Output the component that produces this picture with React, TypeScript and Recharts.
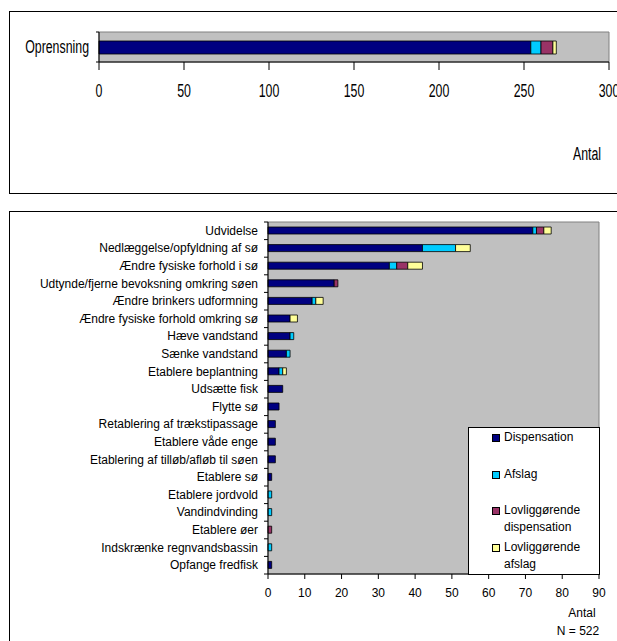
import React from 'react';
import { BarChart, Bar, XAxis, YAxis, CartesianGrid, Legend, ReferenceArea, Label } from 'recharts';

// ---------- data ----------
const topCategories = ['Oprensning'];
const topDispensation = [254];
const topAfslag = [6];
const topLovDisp = [7];
const topLovAfslag = [2];
const topTicks = [0, 50, 100, 150, 200, 250, 300];

const categories = [
  'Udvidelse',
  'Nedlæggelse/opfyldning af sø',
  'Ændre fysiske forhold i sø',
  'Udtynde/fjerne bevoksning omkring søen',
  'Ændre brinkers udformning',
  'Ændre fysiske forhold omkring sø',
  'Hæve vandstand',
  'Sænke vandstand',
  'Etablere beplantning',
  'Udsætte fisk',
  'Flytte sø',
  'Retablering af trækstipassage',
  'Etablere våde enge',
  'Etablering af tilløb/afløb til søen',
  'Etablere sø',
  'Etablere jordvold',
  'Vandindvinding',
  'Etablere øer',
  'Indskrænke regnvandsbassin',
  'Opfange fredfisk',
];
const dispensation = [72, 42, 33, 18, 12, 6, 6, 5, 3, 4, 3, 2, 2, 2, 1, 0, 0, 0, 0, 1];
const afslag = [1, 9, 2, 0, 1, 0, 1, 1, 1, 0, 0, 0, 0, 0, 0, 1, 1, 0, 1, 0];
const lovDisp = [2, 0, 3, 1, 0, 0, 0, 0, 0, 0, 0, 0, 0, 0, 0, 0, 0, 1, 0, 0];
const lovAfslag = [2, 4, 4, 0, 2, 2, 0, 0, 1, 0, 0, 0, 0, 0, 0, 0, 0, 0, 0, 0];
const bottomTicks = [0, 10, 20, 30, 40, 50, 60, 70, 80, 90];

const seriesKeys = ['d', 'a', 'ld', 'la'];
const seriesNames = ['Dispensation', 'Afslag', 'Lovliggørende dispensation', 'Lovliggørende afslag'];
const seriesColors = ['#000080', '#00CCFF', '#993366', '#FFFF99'];
const axisTitle = 'Antal';
const nLabel = 'N = 522';

// ---------- tables ----------
const topData = topCategories.map((name, i) => ({
  name,
  d: topDispensation[i],
  a: topAfslag[i],
  ld: topLovDisp[i],
  la: topLovAfslag[i],
}));
const bottomData = categories.map((name, i) => ({
  name,
  d: dispensation[i],
  a: afslag[i],
  ld: lovDisp[i],
  la: lovAfslag[i],
}));

// ---------- style constants ----------
const FONT = '"Liberation Sans", Arial, sans-serif';
const NARROW = 0.65;

const TOP_PLOT_H = 30;
const BOT_PLOT_H = 352;

const TopYTick = (props: any) => {
  const { x, y, payload } = props;
  const half = TOP_PLOT_H / topCategories.length / 2;
  return (
    <g>
      <text
        transform={`translate(${x - 10} ${y - 1}) scale(${NARROW} 1)`}
        textAnchor="end"
        dominantBaseline="central"
        fontSize={19}
        fontFamily={FONT}
        fill="#000"
      >
        {payload.value}
      </text>
      <line x1={x - 3} x2={x} y1={y - half} y2={y - half} stroke="#000" />
      <line x1={x - 3} x2={x} y1={y + half} y2={y + half} stroke="#000" />
    </g>
  );
};

const TopXTick = (props: any) => {
  const { x, y, payload } = props;
  return (
    <text
      transform={`translate(${x} ${y + 18}) scale(${NARROW} 1)`}
      textAnchor="middle"
      dominantBaseline="central"
      fontSize={19}
      fontFamily={FONT}
      fill="#000"
    >
      {payload.value}
    </text>
  );
};

const BotYTick = (props: any) => {
  const { x, y, payload, index } = props;
  const half = BOT_PLOT_H / categories.length / 2;
  return (
    <g>
      <text
        x={x - 10}
        y={y}
        textAnchor="end"
        dominantBaseline="central"
        fontSize={12}
        fontFamily={FONT}
        fill="#000"
      >
        {payload.value}
      </text>
      <line x1={x - 4} x2={x} y1={y - half} y2={y - half} stroke="#000" />
      {index === categories.length - 1 && (
        <line x1={x - 4} x2={x} y1={y + half} y2={y + half} stroke="#000" />
      )}
    </g>
  );
};

const BotXTick = (props: any) => {
  const { x, y, payload } = props;
  return (
    <text
      x={x}
      y={y + 12}
      textAnchor="middle"
      dominantBaseline="central"
      fontSize={12}
      fontFamily={FONT}
      fill="#000"
    >
      {payload.value}
    </text>
  );
};

const LegendContent = (props: any) => {
  const raw = (props.payload || []) as any[];
  const payload = [...raw].sort(
    (p, q) => seriesNames.indexOf(p.value) - seriesNames.indexOf(q.value)
  );
  return (
    <div
      style={{
        boxSizing: 'border-box',
        width: 132,
        height: 148,
        border: '1px solid #000',
        background: '#fff',
        fontFamily: FONT,
        fontSize: 12,
        color: '#000',
        paddingTop: 1,
      }}
    >
      {payload.map((p: any, i: number) => (
        <div key={i} style={{ position: 'relative', height: 36.5, lineHeight: '17px' }}>
          <span
            style={{
              position: 'absolute',
              left: 23,
              top: 5,
              width: 6,
              height: 6,
              background: p.color,
              border: '1px solid #000',
            }}
          />
          <div style={{ position: 'absolute', left: 35, top: 0, width: 92, textAlign: 'left' }}>
            {p.value}
          </div>
        </div>
      ))}
    </div>
  );
};

export default function App() {
  return (
    <div
      style={{
        position: 'absolute',
        left: 0,
        top: 0,
        width: 617,
        height: 641,
        overflow: 'hidden',
        background: '#fff',
      }}
    >
      {/* frames */}
      <div
        style={{
          position: 'absolute',
          left: 9,
          top: 11,
          width: 700,
          height: 183,
          border: '1px solid #000',
          boxSizing: 'border-box',
        }}
      />
      <div
        style={{
          position: 'absolute',
          left: 9,
          top: 211,
          width: 700,
          height: 500,
          border: '1px solid #000',
          boxSizing: 'border-box',
        }}
      />

      {/* top chart */}
      <div style={{ position: 'absolute', left: 0, top: 0 }}>
        <BarChart
          width={617}
          height={200}
          data={topData}
          layout="vertical"
          margin={{ top: 32, right: 8, bottom: 98, left: 0 }}
          barCategoryGap={0}
        >
          <CartesianGrid fill="#C0C0C0" fillOpacity={1} horizontal={false} vertical={false} stroke="none" />
          <ReferenceArea x1={0} x2={300} fill="none" stroke="#808080" strokeWidth={1} ifOverflow="visible" />
          <XAxis
            type="number"
            domain={[0, 300]}
            ticks={topTicks}
            interval={0}
            tickSize={8}
            tickMargin={2}
            tickLine={{ stroke: '#000' }}
            axisLine={{ stroke: '#000' }}
            tick={<TopXTick />}
            height={40}
          >
            <Label
              content={(p: any) => {
                const vb = p.viewBox || { x: 99, y: 62, width: 510, height: 40 };
                return (
                  <text
                    transform={`translate(${vb.x + vb.width - 22} ${vb.y + 91}) scale(${NARROW} 1)`}
                    textAnchor="middle"
                    dominantBaseline="central"
                    fontSize={19}
                    fontFamily={FONT}
                    fill="#000"
                  >
                    {axisTitle}
                  </text>
                );
              }}
            />
          </XAxis>
          <YAxis
            type="category"
            dataKey="name"
            width={99}
            tickSize={0}
            tickMargin={0}
            tickLine={false}
            axisLine={{ stroke: '#000' }}
            tick={<TopYTick />}
            interval={0}
          />
          {seriesKeys.map((k, i) => (
            <Bar
              key={k}
              dataKey={k}
              name={seriesNames[i]}
              stackId="s"
              fill={seriesColors[i]}
              stroke="#000"
              strokeWidth={0.8}
              barSize={13}
              isAnimationActive={false}
            />
          ))}
        </BarChart>
      </div>

      {/* bottom chart */}
      <div style={{ position: 'absolute', left: 0, top: 200 }}>
        <BarChart
          width={617}
          height={441}
          data={bottomData}
          layout="vertical"
          margin={{ top: 22, right: 18, bottom: 37, left: 0 }}
        >
          <CartesianGrid fill="#C0C0C0" fillOpacity={1} horizontal={false} vertical={false} stroke="none" />
          <ReferenceArea x1={0} x2={90} fill="none" stroke="#808080" strokeWidth={1} ifOverflow="visible" />
          <XAxis
            type="number"
            domain={[0, 90]}
            ticks={bottomTicks}
            interval={0}
            tickSize={5}
            tickMargin={2}
            tickLine={{ stroke: '#000' }}
            axisLine={{ stroke: '#000' }}
            tick={<BotXTick />}
            height={30}
          >
            <Label
              content={(p: any) => {
                const vb = p.viewBox || { x: 268, y: 374, width: 331, height: 30 };
                const right = vb.x + vb.width;
                return (
                  <g fontFamily={FONT} fontSize={12} fill="#000">
                    <text x={right - 17} y={vb.y + 38.5} textAnchor="middle" dominantBaseline="central">
                      {axisTitle}
                    </text>
                    <text x={right - 21} y={vb.y + 57} textAnchor="middle" dominantBaseline="central">
                      {nLabel}
                    </text>
                  </g>
                );
              }}
            />
          </XAxis>
          <YAxis
            type="category"
            dataKey="name"
            width={268}
            tickSize={0}
            tickMargin={0}
            tickLine={false}
            axisLine={{ stroke: '#000' }}
            tick={<BotYTick />}
            interval={0}
          />
          <Legend
            layout="vertical"
            align="center"
            verticalAlign="middle"
            content={<LegendContent />}
            wrapperStyle={{ position: 'absolute', left: 468, top: 227, width: 132, height: 148, margin: 0 }}
          />
          {seriesKeys.map((k, i) => (
            <Bar
              key={k}
              dataKey={k}
              name={seriesNames[i]}
              stackId="s"
              fill={seriesColors[i]}
              stroke="#000"
              strokeWidth={0.8}
              barSize={7}
              isAnimationActive={false}
            />
          ))}
        </BarChart>
      </div>
    </div>
  );
}
